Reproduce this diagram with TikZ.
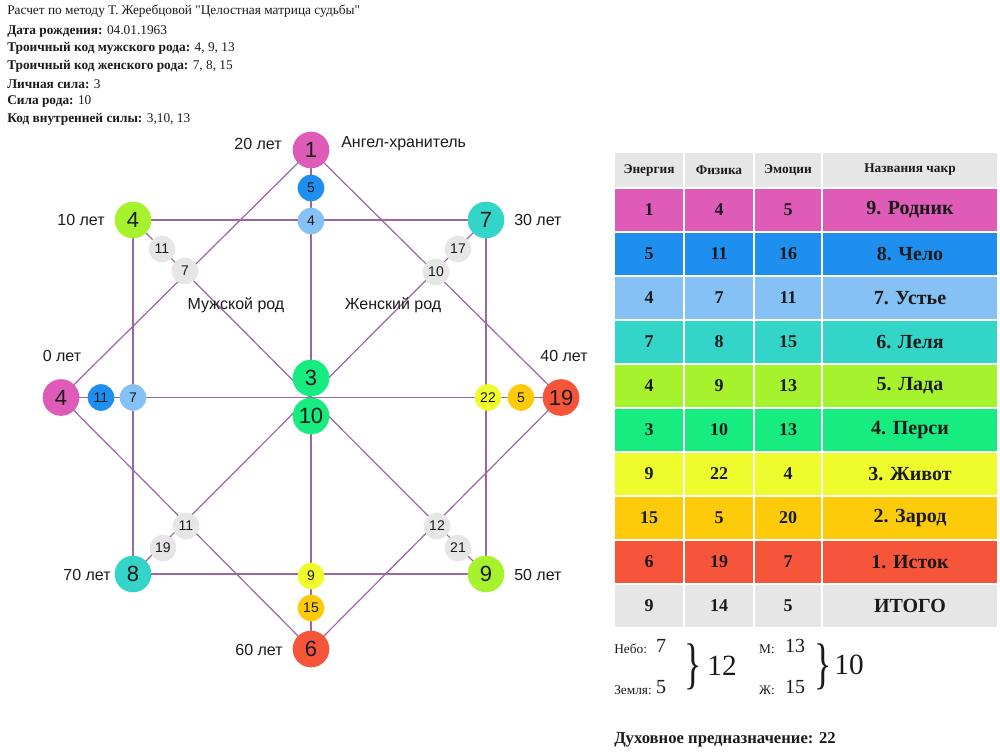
\documentclass[tikz,border=0pt]{standalone}
\usepackage{fontspec}
\usepackage{graphicx}
\setmainfont{Liberation Serif}[Ligatures=TeXOff]
\newfontfamily\arialf{Liberation Sans}
\usetikzlibrary{backgrounds}
\definecolor{cMag}{HTML}{DE5CB8}
\definecolor{cDBlue}{HTML}{1F8FEF}
\definecolor{cLBlue}{HTML}{85C1F5}
\definecolor{cTeal}{HTML}{33D5C8}
\definecolor{cYG}{HTML}{A6F22C}
\definecolor{cGreen}{HTML}{17EC80}
\definecolor{cYellow}{HTML}{EEFB2C}
\definecolor{cOrange}{HTML}{FDCB0A}
\definecolor{cRed}{HTML}{F7553A}
\definecolor{cGray}{HTML}{E6E6E6}
\definecolor{cLine}{HTML}{9A66A3}
\definecolor{cTxt}{HTML}{1A1A1A}
\begin{document}
\begin{tikzpicture}[x=0.75pt,y=-0.75pt,
  txt/.style={inner sep=0pt, anchor=west, text=cTxt, font=\fontsize{10}{11}\selectfont},
  lbl/.style={inner sep=0pt, text=cTxt, font=\arialf\fontsize{12}{13}\selectfont},
  big/.style={circle, inner sep=0pt, minimum size=27.5pt, text=cTxt, font=\arialf\fontsize{16.5}{17}\selectfont},
  sm/.style={circle, inner sep=0pt, minimum size=20pt, text=cTxt, font=\arialf\fontsize{10.5}{11}\selectfont},
  conn/.style={draw=cLine, line width=0.9pt},
  cell/.style={inner sep=0pt, minimum height=31.5pt, text=cTxt, font=\bfseries\fontsize{13.5}{14}\selectfont},
  hcell/.style={inner sep=0pt, minimum height=25.5pt, fill=cGray, text=cTxt, font=\bfseries\fontsize{10}{11}\selectfont},
  small/.style={inner sep=0pt, text=cTxt, font=\fontsize{10}{11}\selectfont},
  num/.style={inner sep=0pt, text=cTxt, font=\fontsize{15}{16}\selectfont},
  bignum/.style={inner sep=0pt, text=cTxt, font=\fontsize{22}{23}\selectfont},
  brc/.style={inner sep=0pt, text=cTxt}]
\useasboundingbox (0,0) rectangle (1000,754);

% header text
\node[txt] (t0) at (7,11) {Расчет по методу Т. Жеребцовой "Целостная матрица судьбы"};
\node[txt] (t1) at (7,31) {\textbf{Дата рождения:} 04.01.1963};
\node[txt] (t2) at (7,48.5) {\textbf{Троичный код мужского рода:} 4, 9, 13};
\node[txt] (t3) at (7,66) {\textbf{Троичный код женского рода:} 7, 8, 15};
\node[txt] (t4) at (7,84) {\textbf{Личная сила:} 3};
\node[txt] (t5) at (7,101.5) {\textbf{Сила рода:} 10};
\node[txt] (t6) at (7,119) {\textbf{Код внутренней силы:} 3,10, 13};

% diagram nodes
\node[big, fill=cMag] (T1) at (311,150) {1};
\node[sm, fill=cDBlue] (T5) at (311,188) {5};
\node[sm, fill=cLBlue] (T4) at (311,221) {4};
\node[big, fill=cYG] (L4) at (133,220) {4};
\node[big, fill=cTeal] (R7) at (486,220) {7};
\node[sm, fill=cGray] (ga11) at (162,249) {11};
\node[sm, fill=cGray] (ga7) at (185,271) {7};
\node[sm, fill=cGray] (gb17) at (458,249) {17};
\node[sm, fill=cGray] (gb10) at (436,272) {10};
\node[big, fill=cMag] (W4) at (61,397.5) {4};
\node[sm, fill=cDBlue] (W11) at (101,397.5) {11};
\node[sm, fill=cLBlue] (W7) at (133,397.5) {7};
\node[big, fill=cGreen] (C3) at (311,378) {3};
\node[big, fill=cGreen] (C10) at (311,416) {10};
\node[sm, fill=cYellow] (E22) at (488,397.5) {22};
\node[sm, fill=cOrange] (E5) at (521,397.5) {5};
\node[big, fill=cRed] (E19) at (561,397.5) {19};
\node[big, fill=cTeal] (BL8) at (133,574) {8};
\node[sm, fill=cGray] (gc11) at (186,526) {11};
\node[sm, fill=cGray] (gc19) at (163,548) {19};
\node[sm, fill=cGray] (gd12) at (437,526) {12};
\node[sm, fill=cGray] (gd21) at (458,548) {21};
\node[big, fill=cYG] (BR9) at (486,574) {9};
\node[sm, fill=cYellow] (B9) at (311,576) {9};
\node[sm, fill=cOrange] (B15) at (311,608) {15};
\node[big, fill=cRed] (B6) at (311,649) {6};

% connectors
\begin{scope}[on background layer]
\draw[conn] (T1.center) -- (B6.center);
\draw[conn] (L4.center) -- (R7.center) -- (BR9.center) -- (BL8.center) -- cycle;
\draw[conn] (W4.center) -- (E19.center);
\draw[conn] (T1.center) -- (W4.center) -- (B6.center) -- (E19.center) -- cycle;
\draw[conn] (L4.center) -- (BR9.center);
\draw[conn] (R7.center) -- (BL8.center);
\end{scope}

% diagram labels
\node[lbl] (a20) at (258,144) {20 лет};
\node[lbl, anchor=west] (ang) at (341,144) {Ангел-хранитель};
\node[lbl] (a10) at (81,220) {10 лет};
\node[lbl, anchor=west] (a30) at (514,220) {30 лет};
\node[lbl] (a0) at (62,356) {0 лет};
\node[lbl] (a40) at (564,356) {40 лет};
\node[lbl] (a70) at (87,575) {70 лет};
\node[lbl, anchor=west] (a50) at (514,575) {50 лет};
\node[lbl] (a60) at (259,650) {60 лет};
\node[lbl] (muzh) at (236,305) {Мужской род};
\node[lbl] (zhen) at (393,305) {Женский род};

% table header
\node[hcell, minimum width=51pt] (h1) at (649,170) {Энергия};
\node[hcell, minimum width=51pt] (h2) at (719,170) {Физика};
\node[hcell, minimum width=49.5pt] (h3) at (788,170) {Эмоции};
\node[hcell, minimum width=130.5pt] (h4) at (910,170) {Названия чакр};

% table rows
\foreach \r/\col/\a/\b/\c/\n in {1/cMag/1/4/5/9. Родник, 2/cDBlue/5/11/16/8. Чело, 3/cLBlue/4/7/11/7. Устье, 4/cTeal/7/8/15/6. Леля, 5/cYG/4/9/13/5. Лада, 6/cGreen/3/10/13/4. Перси, 7/cYellow/9/22/4/3. Живот, 8/cOrange/15/5/20/2. Зарод, 9/cRed/6/19/7/1. Исток, 10/cGray/9/14/5/ИТОГО}{
  \pgfmathsetmacro{\yy}{210+44*(\r-1)}
  \node[cell, fill=\col, minimum width=51pt] (r\r c1) at (649,\yy) {\a};
  \node[cell, fill=\col, minimum width=51pt] (r\r c2) at (719,\yy) {\b};
  \node[cell, fill=\col, minimum width=49.5pt] (r\r c3) at (788,\yy) {\c};
  \node[cell, fill=\col, minimum width=130.5pt, font=\bfseries\fontsize{15}{16}\selectfont] (r\r c4) at (910,\yy) {\n};
}

% bottom
\node[small, anchor=west] (nebo) at (614,649) {Небо:};
\node[num] (n7) at (661,646) {7};
\node[small, anchor=west] (zem) at (614,690) {Земля:};
\node[num] (n5) at (661,687) {5};
\node[brc] (br1) at (693,667) {\scalebox{1}[1.55]{\fontsize{27}{27}\selectfont\}}};
\node[bignum] (n12) at (722,666) {12};
\node[small] (m) at (767,649) {М:};
\node[num] (n13) at (795,646) {13};
\node[small] (zh) at (767,690) {Ж:};
\node[num] (n15) at (795,687) {15};
\node[brc] (br2) at (823,667) {\scalebox{1}[1.55]{\fontsize{27}{27}\selectfont\}}};
\node[bignum] (n10) at (849,665) {10};
\node[txt, font=\bfseries\fontsize{12.5}{13}\selectfont] (duh) at (614,740) {Духовное предназначение: 22};
\end{tikzpicture}
\end{document}
